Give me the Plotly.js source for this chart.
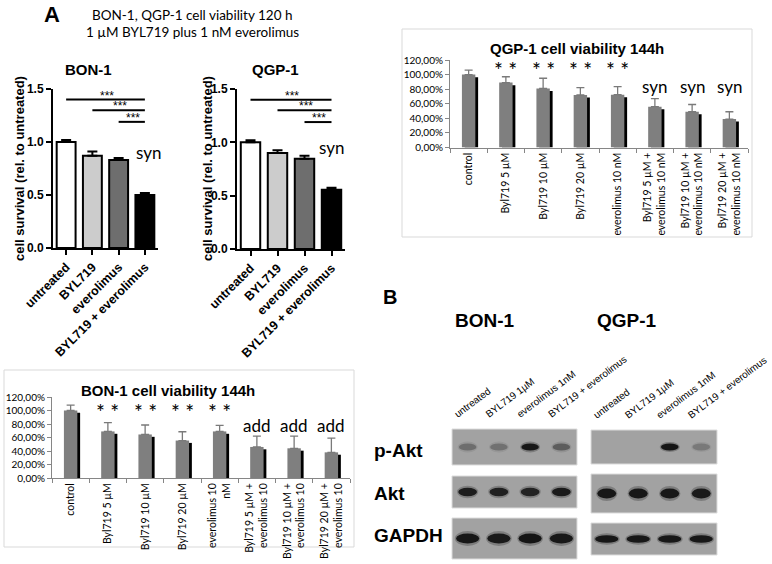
<!DOCTYPE html>
<html>
<head>
<meta charset="utf-8">
<script src="https://cdn.plot.ly/plotly-3.0.1.min.js"></script>
<style>body{margin:0;background:#fff}</style>
</head>
<body>
<div id="fig" style="width:772px;height:564px"></div>
<script>
// ---- panel A: viability after 120 h, relative to untreated
const A_GROUPS = ["untreated", "BYL719", "everolimus", "BYL719 + everolimus"];
const A_BON_MEAN = [1.0, 0.87, 0.83, 0.50];
const A_BON_SEM = [0.02, 0.04, 0.02, 0.02];
const A_QGP_MEAN = [1.0, 0.90, 0.845, 0.555];
const A_QGP_SEM = [0.02, 0.025, 0.03, 0.02];
const A_SIG_FROM = [0, 1, 2];
const A_SIG_TO = [3, 3, 3];

// ---- 144 h viability (Excel charts)
const Q144_LABELS = ["control", "Byl719 5 µM", "Byl719 10 µM", "Byl719 20 µM", "everolimus 10 nM",
  "Byl719 5 µM +<br>everolimus 10 nM", "Byl719 10 µM +<br>everolimus 10 nM", "Byl719 20 µM +<br>everolimus 10 nM"];
const Q144_MEAN = [100, 89, 81, 72, 72.5, 56, 49, 39];
const Q144_ERR = [6, 8, 14, 10, 11, 11, 10, 10];
const Q144_MARK = ["", "* *", "* *", "* *", "* *", "syn", "syn", "syn"];

const B144_LABELS = ["control", "Byl719 5 µM", "Byl719 10 µM", "Byl719 20 µM", "everolimus 10<br>nM",
  "Byl719 5 µM +<br>everolimus 10", "Byl719 10 µM +<br>everolimus 10", "Byl719 20 µM +<br>everolimus 10"];
const B144_MEAN = [100, 69, 64.5, 55.5, 69, 46, 44, 38];
const B144_ERR = [8, 13, 14, 13, 9, 16, 18, 21];
const B144_MARK = ["", "* *", "* *", "* *", "* *", "add", "add", "add"];

const PCT_TICKS = [0, 20, 40, 60, 80, 100, 120];

// ---- panel B: western blot band intensity (0 none .. 1 strong)
const LANES = ["untreated", "BYL719 1µM", "everolimus 1nM", "BYL719 + everolimus"];
const PROTEINS = ["p-Akt", "Akt", "GAPDH"];
const BON_BANDS = [[0.3, 0.28, 0.92, 0.4], [0.88, 0.85, 0.82, 0.9], [0.93, 0.9, 0.94, 0.92]];
const QGP_BANDS = [[0, 0, 0.94, 0.22], [0.93, 0.93, 0.92, 0.9], [0.93, 0.92, 0.92, 0.92]];

// page geometry helpers (pixels -> paper)
const W = 772, H = 564;
const xd = (l, r) => [l / W, r / W];
const yd = (t, b) => [1 - b / H, 1 - t / H];
const px = v => v / W;
const py = v => 1 - v / H;

const ARIAL = "Liberation Sans, Arial, sans-serif";
const CALIBRI = "Lato, sans-serif";

const traces = [];
const annotations = [];
const shapes = [];

function paperText(text, x, y, size, opts) {
  annotations.push(Object.assign({
    xref: "paper", yref: "paper", x: px(x), y: py(y), text: text, showarrow: false,
    xanchor: "center", yanchor: "middle", font: {family: ARIAL, size: size, color: "#000"}
  }, opts || {}));
}

// ---------- panel A (Prism style)
const A_COLORS = ["#ffffff", "#cccccc", "#6e6e6e", "#000000"];
const SIG_H = [1.40, 1.30, 1.19];

function prismAxes(xdom, ydom, xa, ya) {
  const x = {
    domain: xdom, anchor: ya, type: "category", range: [-0.5, 3.5],
    showline: true, linecolor: "#000", linewidth: 2, ticks: "outside", ticklen: 5, tickwidth: 2,
    tickcolor: "#000", tickangle: -45, showgrid: false, zeroline: false,
    tickfont: {family: ARIAL, size: 12.5, weight: "bold", color: "#000"}
  };
  const y = {
    domain: ydom, anchor: xa, range: [0, 1.5], dtick: 0.5, tickformat: ".1f",
    showline: true, linecolor: "#000", linewidth: 2, ticks: "outside", ticklen: 5, tickwidth: 2,
    tickcolor: "#000", showgrid: false, zeroline: false,
    tickfont: {family: ARIAL, size: 12, weight: "bold", color: "#000"}
  };
  return [x, y];
}

function prismPanel(xa, ya, mean, sem, synShift, synY) {
  traces.push({
    type: "bar", x: A_GROUPS, y: mean, xaxis: xa, yaxis: ya, width: 0.72,
    marker: {color: A_COLORS, line: {color: "#000", width: 2}},
    error_y: {type: "data", array: sem, arrayminus: sem.map(() => 0), symmetric: false,
      color: "#000", thickness: 2, width: 5},
    hoverinfo: "skip"
  });
  A_SIG_FROM.forEach((f, i) => {
    const t = A_SIG_TO[i];
    traces.push({
      type: "scatter", mode: "lines", x: [A_GROUPS[f], A_GROUPS[t]], y: [SIG_H[i], SIG_H[i]],
      xaxis: xa, yaxis: ya, line: {color: "#000", width: 2}, hoverinfo: "skip"
    });
    annotations.push({
      xref: xa, yref: ya, x: (f + t) / 2 + 0.05, y: SIG_H[i], text: "***", showarrow: false,
      yanchor: "bottom", yshift: -5, font: {family: ARIAL, size: 12, color: "#000"}
    });
  });
  annotations.push({
    xref: xa, yref: ya, x: 3, y: synY, text: "syn", showarrow: false, xshift: synShift,
    font: {family: CALIBRI, size: 17, color: "#000"}
  });
}

const [ax1, ay1] = prismAxes(xd(53, 158), yd(89, 248), "x", "y");
const [ax2, ay2] = prismAxes(xd(237, 345), yd(89, 249), "x2", "y2");
prismPanel("x", "y", A_BON_MEAN, A_BON_SEM, 4, 0.9);
prismPanel("x2", "y2", A_QGP_MEAN, A_QGP_SEM, 0, 0.95);

paperText("A", 52, 15, 22, {font: {family: ARIAL, size: 22, weight: "bold", color: "#000"}});
paperText("BON-1, QGP-1 cell viability 120 h", 192, 15, 13.5, {font: {family: CALIBRI, size: 13.5, color: "#000"}});
paperText("1 µM BYL719 plus 1 nM everolimus", 192, 32, 13.5, {font: {family: CALIBRI, size: 13.5, color: "#000"}});
paperText("BON-1", 88, 69, 15, {font: {family: ARIAL, size: 15, weight: "bold", color: "#000"}});
paperText("QGP-1", 275, 69, 15, {font: {family: ARIAL, size: 15, weight: "bold", color: "#000"}});
paperText("cell survival (rel. to untreated)", 20, 169, 13,
  {textangle: -90, font: {family: ARIAL, size: 13, weight: "bold", color: "#000"}});
paperText("cell survival (rel. to untreated)", 208, 169, 13,
  {textangle: -90, font: {family: ARIAL, size: 13, weight: "bold", color: "#000"}});

// ---------- 144 h panels (Excel style)
const MARK_Y3 = {"* *": 107, "syn": 84};
const MARK_Y4 = {"* *": 99, "add": 78};
const MARK_SIZE = {"* *": 21, "syn": 17, "add": 17};

function excelAxes(xdom, ydom, xa, ya) {
  const x = {
    domain: xdom, anchor: ya, type: "category", showline: true, linecolor: "#868686", linewidth: 1,
    ticks: "outside", tickson: "boundaries", ticklen: 4, tickcolor: "#868686", tickangle: -90,
    showgrid: false, zeroline: false, tickfont: {family: CALIBRI, size: 10.5, color: "#000"}
  };
  const y = {
    domain: ydom, anchor: xa, range: [0, 120], tickvals: PCT_TICKS,
    ticktext: PCT_TICKS.map(v => v.toFixed(2).replace(".", ",") + "%"),
    showline: true, linecolor: "#868686", linewidth: 1, ticks: "outside", ticklen: 4, tickcolor: "#868686",
    showgrid: false, zeroline: false, tickfont: {family: CALIBRI, size: 10, color: "#000"}
  };
  return [x, y];
}

function excelPanel(xa, ya, labels, mean, err, marks, markY) {
  traces.push({
    type: "bar", x: labels, y: mean.map(v => v - 3.5), xaxis: xa, yaxis: ya,
    width: 0.36, offset: -0.105, marker: {color: "#000"}, hoverinfo: "skip"
  });
  traces.push({
    type: "bar", x: labels, y: mean, xaxis: xa, yaxis: ya,
    width: 0.36, offset: -0.18, marker: {color: "#7f7f7f"},
    error_y: {type: "data", array: err, arrayminus: err.map(() => 0), symmetric: false,
      color: "#7a7a7a", thickness: 1.3, width: 4},
    hoverinfo: "skip"
  });
  marks.forEach((m, i) => {
    if (!m) return;
    annotations.push({
      xref: xa, yref: ya, x: i, y: markY[m], text: m, showarrow: false,
      font: {family: CALIBRI, size: MARK_SIZE[m], color: "#000"}
    });
  });
}

const [ax3, ay3] = excelAxes(xd(450, 748), yd(60, 147.5), "x3", "y3");
const [ax4, ay4] = excelAxes(xd(52, 350), yd(397, 478), "x4", "y4");
excelPanel("x3", "y3", Q144_LABELS, Q144_MEAN, Q144_ERR, Q144_MARK, MARK_Y3);
excelPanel("x4", "y4", B144_LABELS, B144_MEAN, B144_ERR, B144_MARK, MARK_Y4);

shapes.push({type: "rect", xref: "paper", yref: "paper", x0: px(402), x1: px(752), y0: py(237), y1: py(29),
  line: {color: "#d9d9d9", width: 1}, layer: "below"});
shapes.push({type: "rect", xref: "paper", yref: "paper", x0: px(4), x1: px(354), y0: py(547), y1: py(370),
  line: {color: "#d9d9d9", width: 1}, layer: "below"});
paperText("QGP-1 cell viability 144h", 577, 49, 15, {font: {family: ARIAL, size: 15, weight: "bold", color: "#000"}});
paperText("BON-1 cell viability 144h", 168, 390, 15, {font: {family: ARIAL, size: 15, weight: "bold", color: "#000"}});

// ---------- panel B (western blots)
const BLOT_POS = [
  {x: [452, 577], rows: [[429, 465], [476, 508], [518, 559]]},
  {x: [591, 717], rows: [[430, 464], [474, 513], [523, 555]]}
];
const BAND_HALF = [[0.28, 0.1], [0.3, 0.13], [0.37, 0.12]];
const BLOT_BG = "#a2a2a2";
const blotAxes = {};

[BON_BANDS, QGP_BANDS].forEach((bands, c) => {
  PROTEINS.forEach((p, r) => {
    const k = 5 + c * 3 + r;
    const xa = "x" + k, ya = "y" + k;
    const pos = BLOT_POS[c];
    blotAxes["xaxis" + k] = {
      domain: xd(pos.x[0], pos.x[1]), anchor: ya, range: [-0.5, 3.5],
      tickvals: [0, 1, 2, 3], ticktext: LANES, showticklabels: r === 0, side: "top",
      tickangle: -37, ticks: r === 0 ? "outside" : "", ticklen: 5, tickcolor: "rgba(0,0,0,0)",
      ticklabelshift: -13, ticklabeloverflow: "allow",
      showline: false, showgrid: false, zeroline: false,
      tickfont: {family: ARIAL, size: 10, color: "#000"}
    };
    blotAxes["yaxis" + k] = {domain: yd(pos.rows[r][0], pos.rows[r][1]), anchor: xa, range: [0, 1], visible: false};
    traces.push({type: "scatter", mode: "markers", x: [0, 1, 2, 3], y: bands[r].map(() => 0.5),
      xaxis: xa, yaxis: ya, marker: {opacity: 0}, hoverinfo: "skip"});
    shapes.push({type: "rect", xref: xa + " domain", yref: ya + " domain", x0: 0, x1: 1, y0: 0, y1: 1,
      fillcolor: BLOT_BG, line: {color: "#dcdcdc", width: 1}, layer: "below"});
    const [hw, hh] = BAND_HALF[r];
    bands[r].forEach((v, lane) => {
      if (v <= 0) return;
      shapes.push({type: "circle", xref: xa, yref: ya, x0: lane - hw - 0.04, x1: lane + hw + 0.04,
        y0: 0.5 - hh * 1.5, y1: 0.5 + hh * 1.5, fillcolor: "rgba(30,30,30," + (v * 0.3).toFixed(2) + ")",
        line: {width: 0}, layer: "above"});
      shapes.push({type: "circle", xref: xa, yref: ya, x0: lane - hw, x1: lane + hw,
        y0: 0.5 - hh, y1: 0.5 + hh, fillcolor: "rgba(15,15,15," + v.toFixed(2) + ")",
        line: {width: 0}, layer: "above"});
    });
  });
});

paperText("B", 390, 297, 20, {font: {family: ARIAL, size: 20, weight: "bold", color: "#000"}});
paperText("BON-1", 485, 320, 19, {font: {family: ARIAL, size: 19, weight: "bold", color: "#000"}});
paperText("QGP-1", 627, 320, 19, {font: {family: ARIAL, size: 19, weight: "bold", color: "#000"}});
[450, 493, 535].forEach((y, r) => {
  paperText(PROTEINS[r], 372, y, 19, {xanchor: "left", font: {family: ARIAL, size: 19, weight: "bold", color: "#000"}});
});

const layout = Object.assign({
  width: W, height: H, margin: {l: 0, r: 0, t: 0, b: 0},
  paper_bgcolor: "#fff", plot_bgcolor: "rgba(0,0,0,0)",
  showlegend: false, barmode: "overlay",
  font: {family: ARIAL, color: "#000"},
  xaxis: ax1, yaxis: ay1, xaxis2: ax2, yaxis2: ay2,
  xaxis3: ax3, yaxis3: ay3, xaxis4: ax4, yaxis4: ay4,
  annotations: annotations, shapes: shapes
}, blotAxes);

Plotly.newPlot("fig", traces, layout, {displayModeBar: false, staticPlot: true});
</script>
</body>
</html>
